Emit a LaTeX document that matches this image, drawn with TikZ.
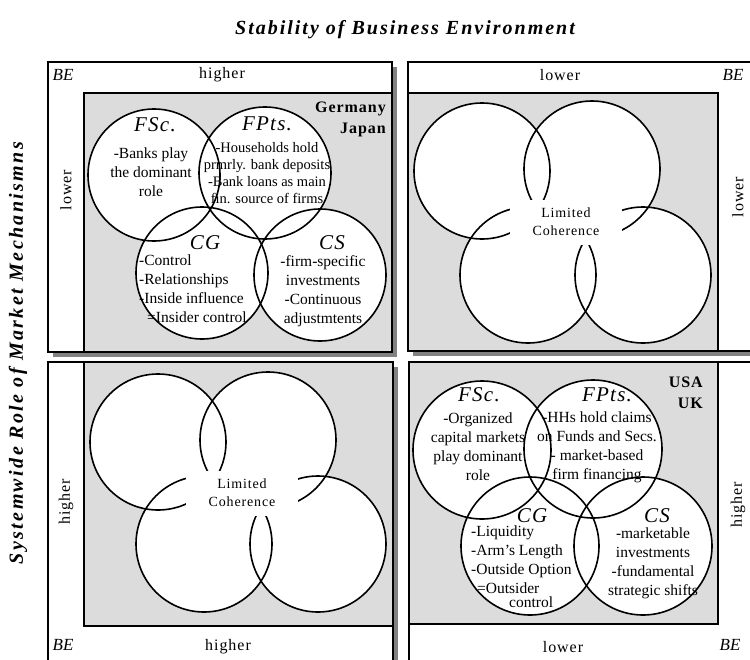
\documentclass[tikz,border=0pt]{standalone}
\usepackage{fontspec}
\setmainfont{Liberation Serif}
\newfontfamily\titlefont[LetterSpace=10]{Liberation Serif}
\newfontfamily\sidefont[LetterSpace=12]{Liberation Serif}
\newfontfamily\headfont[LetterSpace=6]{Liberation Serif}
\definecolor{panelgrey}{RGB}{220,220,220}
\definecolor{shadowgrey}{RGB}{130,130,130}

\begin{document}
\begin{tikzpicture}[
  x=1pt, y=-1pt,
  frame/.style={draw, fill=white, line width=1.3pt},
  panel/.style={draw, fill=panelgrey, line width=1.3pt},
  shade/.style={fill=shadowgrey},
  ring/.style={circle, fill=white, minimum size=#1, inner sep=0pt},
  rim/.style={line width=1.6pt},
  title/.style={font=\titlefont\fontsize{20}{23}\selectfont\bfseries\itshape, inner sep=0pt},
  head/.style={font=\headfont\fontsize{21}{24}\selectfont\itshape, inner sep=0pt},
  body/.style={font=\fontsize{15.5}{19}\selectfont, align=center, inner sep=0pt},
  side/.style={font=\headfont\fontsize{16}{18}\selectfont, inner sep=0pt},
  be/.style={font=\fontsize{17}{19}\selectfont\itshape, inner sep=0pt},
  nation/.style={font=\headfont\fontsize{16}{21}\selectfont\bfseries, align=right, inner sep=0pt},
  limited/.style={fill=white, minimum width=112pt, minimum height=45pt, align=center,
    font=\headfont\fontsize{14}{18}\selectfont, inner sep=0pt}
]
\useasboundingbox (0,0) rectangle (750,659);

% frames with drop shadows
\fill[shade] (53,67) rectangle (397,357);
\fill[shade] (413,67) rectangle (765,356);
\fill[shade] (53,367) rectangle (398,675);
\fill[shade] (414,367) rectangle (765,675);
\draw[frame] (48,62) rectangle (392,352);
\draw[frame] (408,62) rectangle (760,351);
\draw[frame] (48,362) rectangle (393,670);
\draw[frame] (409,362) rectangle (760,670);
\draw[panel] (84,93) rectangle (392,352);
\draw[panel] (408,93) rectangle (718,351);
\draw[panel] (84,362) rectangle (393,626);
\draw[panel] (409,362) rectangle (718,624);

% circles
\node[ring=132pt] (tlfsc) at (154,175) {};
\node[ring=132pt] (tlfpts) at (265,173) {};
\node[ring=132pt] (tlcg) at (202,273) {};
\node[ring=132pt] (tlcs) at (320,275) {};
\node[ring=136pt] (trnw) at (482,171) {};
\node[ring=136pt] (trne) at (592,169) {};
\node[ring=136pt] (trsw) at (528,275) {};
\node[ring=136pt] (trse) at (643,275) {};
\node[ring=136pt] (blnw) at (158,442) {};
\node[ring=136pt] (blne) at (268,440) {};
\node[ring=136pt] (blsw) at (204,544) {};
\node[ring=136pt] (blse) at (318,544) {};
\node[ring=138pt] (brfsc) at (482,450) {};
\node[ring=138pt] (brfpts) at (593,449) {};
\node[ring=138pt] (brcg) at (530,546) {};
\node[ring=138pt] (brcs) at (643,546) {};
\foreach \c/\r in {tlfsc/66,tlfpts/66,tlcg/66,tlcs/66,trnw/68,trne/68,trsw/68,trse/68,
    blnw/68,blne/68,blsw/68,blse/68,brfsc/69,brfpts/69,brcg/69,brcs/69}
  \draw[rim] (\c) circle[radius=\r pt];

\node[limited] (trlimited) at (566,222) {Limited\\Coherence};
\node[limited] (bllimited) at (242,493) {Limited\\Coherence};

% axis titles
\node[title] (toptitle) at (405,30) {Stability of Business Environment};
\node[title, font=\sidefont\fontsize{20}{23}\selectfont\bfseries\itshape, rotate=90] (sidetitle) at (18,353) {Systemwide Role of Market Mechanismns};

% panel captions
\node[be] (tlbe) at (63,75) {BE};
\node[side] (tlhigher) at (222,75) {higher};
\node[side, rotate=90] (tllower) at (66,190) {lower};
\node[side] (trlower) at (560,75) {lower};
\node[be] (trbe) at (733,75) {BE};
\node[side, rotate=90] (trlowerv) at (738,197) {lower};
\node[be] (blbe) at (63,645) {BE};
\node[side] (blhigher) at (228,647) {higher};
\node[side, rotate=90] (blhigherv) at (66,502) {higher};
\node[side] (brlower) at (563,647) {lower};
\node[be] (brbe) at (730,645) {BE};
\node[side, rotate=90] (brhigherv) at (738,505) {higher};

% top-left panel texts
\node[nation, anchor=east] (tlland) at (386,119) {Germany\\Japan};
\node[head] (tlfsclab) at (155,125) {FSc.};
\node[body] (tlfsctxt) at (151,172) {-Banks play\\the dominant\\role};
\node[head] (tlfptslab) at (267,124) {FPts.};
\node[body, font=\fontsize{14.5}{17.2}\selectfont] (tlfptstxt) at (267,173) {-Households hold\\prmrly. bank deposits\\-Bank loans as main\\fin. source of firms};
\node[head] (tlcglab) at (205,243) {CG};
\node[body, align=left, anchor=west] (tlcgtxt) at (139,289) {-Control\\-Relationships\\-Inside influence\\\hspace*{8pt}=Insider control};
\node[head] (tlcslab) at (332,243) {CS};
\node[body] (tlcstxt) at (323,291) {-firm-specific\\investments\\-Continuous\\adjustmtents};

% bottom-right panel texts
\node[nation, anchor=east] (brland) at (703,393) {USA\\UK};
\node[head] (brfsclab) at (479,395) {FSc.};
\node[body] (brfsctxt) at (478,447) {-Organized\\capital markets\\play dominant\\role};
\node[head] (brfptslab) at (607,395) {FPts.};
\node[body] (brfptstxt) at (597,447) {-HHs hold claims\\on Funds and Secs.\\- market-based\\firm financing};
\node[head] (brcglab) at (532,516) {CG};
\node[body, align=left, anchor=west] (brcgtxt) at (471,567) {-Liquidity\\-Arm's Length\\-Outside Option\\\hspace*{6pt}=Outsider\\[-5pt]\hspace*{38pt}control};
\node[head] (brcslab) at (657,516) {CS};
\node[body] (brcstxt) at (653,563) {-marketable\\investments\\-fundamental\\strategic shifts};
\end{tikzpicture}
\end{document}
